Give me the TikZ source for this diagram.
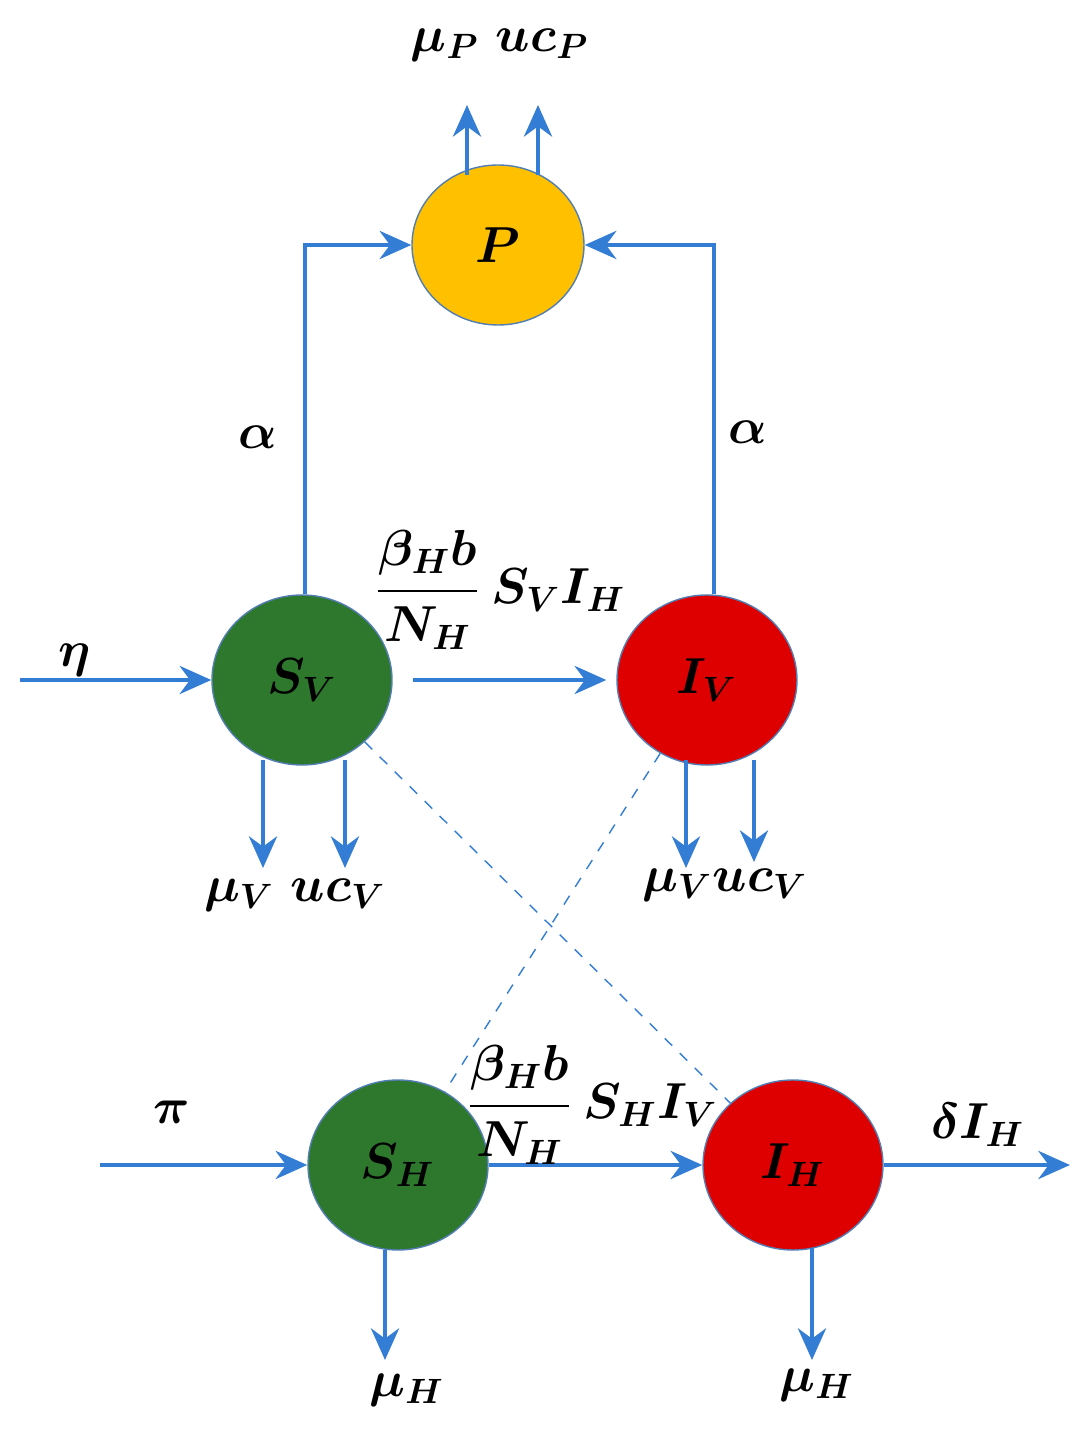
\documentclass[tikz,border=0pt]{standalone}
\usepackage{amsmath,bm}
\usetikzlibrary{arrows.meta,shapes.geometric}

\definecolor{flow}{RGB}{52,125,213}
\definecolor{pcol}{RGB}{255,192,0}
\definecolor{scol}{RGB}{46,120,46}
\definecolor{icol}{RGB}{222,0,0}

\begin{document}
\begin{tikzpicture}
\useasboundingbox (0,0) rectangle (10.92,14.34);
\begin{scope}[every node/.style={ellipse,draw=flow!60!gray,thin,minimum width=1.8cm,minimum height=1.7cm,font=\Large\boldmath}]
    \node[fill=pcol,minimum width=1.72cm,minimum height=1.6cm] (P) at (4.98,11.89) {$P$};
    \node[fill=scol] (SV) at (3.02,7.54) {$S_V$};
    \node[fill=icol] (IV) at (7.07,7.54) {$I_V$};
    \node[fill=scol] (SH) at (3.98,2.69) {$S_H$};
    \node[fill=icol] (IH) at (7.93,2.69) {$I_H$};
\end{scope}

% free ends of the flows
\coordinate (p1) at (4.67,13.29);  \coordinate (p2) at (5.38,13.29);
\coordinate (eta) at (0.2,7.54);   \coordinate (pin) at (1.0,2.69);
\coordinate (out) at (10.70,2.69);
\coordinate (v1) at (2.63,5.66);   \coordinate (v2) at (3.45,5.66);
\coordinate (v3) at (6.86,5.66);   \coordinate (v4) at (7.54,5.72);
\coordinate (h1) at (3.85,0.74);   \coordinate (h2) at (8.12,0.74);

\begin{scope}[>={Stealth[length=9pt,width=8pt]},
              every path/.style={draw=flow,very thick}]
    \draw[->] (4.67,12.59) -- (p1);
    \draw[->] (5.38,12.59) -- (p2);
    \draw[->] ([xshift=0.03cm]SV.north) |- (P);
    \draw[->] ([xshift=0.07cm]IV.north) |- (P);
    \draw[->] (eta) -- (SV);
    \draw[->] ([xshift=0.2cm]SV.east) -- ([xshift=-0.1cm]IV.west);
    \draw[->] (2.63,6.74) -- (v1);
    \draw[->] (3.45,6.74) -- (v2);
    \draw[->] (6.86,6.74) -- (v3);
    \draw[->] (7.54,6.74) -- (v4);
    \draw[->] (pin) -- (SH);
    \draw[->] (SH) -- (IH);
    \draw[->] (IH) -- (out);
    \draw[->] (3.85,1.84) -- (h1);
    \draw[->] (8.12,1.86) -- (h2);
    \draw[thin,dashed] (SV) -- (IH);
    \draw[thin,dashed] (IV) -- (SH);
\end{scope}

\begin{scope}[every node/.style={font=\Large\boldmath}]
    \node (lp) at (5.0,13.89) {$\mu_P\ uc_P$};
    \node (la1) at (2.58,9.97) {$\alpha$};
    \node (la2) at (7.48,10.02) {$\alpha$};
    \node (leta) at (0.75,7.74) {$\eta$};
    \node (lsv) at (5.0,8.44) {$\dfrac{\beta_H b}{N_H}\,S_V I_H$};
    \node (lv1) at (2.95,5.39) {$\mu_V\ uc_V$};
    \node (lv2) at (7.25,5.49) {$\mu_V uc_V$};
    \node (lpi) at (1.72,3.22) {$\pi$};
    \node (lsh) at (5.92,3.29) {$\dfrac{\beta_H b}{N_H}\,S_H I_V$};
    \node (ldel) at (9.78,3.09) {$\delta I_H$};
    \node (lh1) at (4.07,0.44) {$\mu_H$};
    \node (lh2) at (8.17,0.49) {$\mu_H$};
\end{scope}
\end{tikzpicture}
\end{document}
